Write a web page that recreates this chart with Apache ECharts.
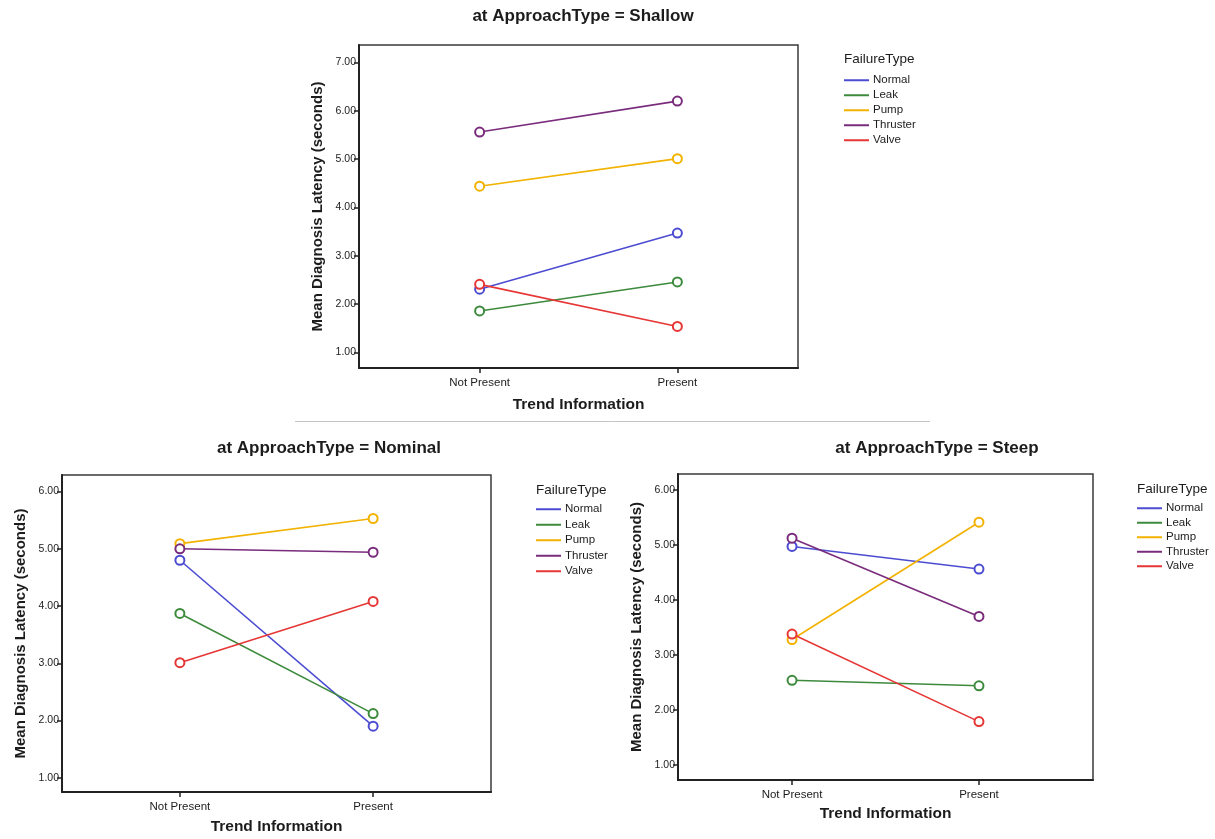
<!DOCTYPE html>
<html>
<head>
<meta charset="utf-8">
<script src="https://cdn.jsdelivr.net/npm/echarts@6/dist/echarts.min.js"></script>
<style>
  html, body { margin: 0; padding: 0; background: #fff; }
  #chart { width: 1215px; height: 839px; }
</style>
</head>
<body>
<div id="chart"></div>
<script>
// Categories on the x axis (trend information) and the failure types
const categories = ['Not Present', 'Present'];
const failureTypes = ['Normal', 'Leak', 'Pump', 'Thruster', 'Valve'];
const yTicks = [1, 2, 3, 4, 5, 6, 7];

// Mean diagnosis latency (seconds) per failure type: [Not Present, Present]
const shallowValues = [
  [2.31, 3.47],  // Normal
  [1.86, 2.46],  // Leak
  [4.44, 5.01],  // Pump
  [5.56, 6.20],  // Thruster
  [2.41, 1.54]   // Valve
];
const nominalValues = [
  [4.80, 1.90],
  [3.87, 2.12],
  [5.09, 5.53],
  [5.00, 4.94],
  [3.01, 4.08]
];
const steepValues = [
  [4.97, 4.56],
  [2.54, 2.44],
  [3.28, 5.41],
  [5.12, 3.70],
  [3.38, 1.79]
];

const panelTitles = ['at ApproachType = Shallow', 'at ApproachType = Nominal', 'at ApproachType = Steep'];
const panelValues = [shallowValues, nominalValues, steepValues];

const colors = ['#4c4cd2', '#3d8a3d', '#f2b200', '#7a2c7c', '#e63636'];
const FONT = '"Liberation Sans", Arial, sans-serif';
const TEXT = '#1c1c1c';

// Layout of the three panels
const panels = [
  { grid: { left: 359, top: 45, width: 439, height: 323 }, yMin: 0.68, yMax: 7.36, yTickMax: 7,
    title: { left: 578, top: 3 }, legend: { left: 839, top: 47, items: 69, gap: 2.5 }, nameGapX: 29 },
  { grid: { left: 62, top: 475, width: 429, height: 317 }, yMin: 0.75, yMax: 6.29, yTickMax: 6,
    title: { left: 324, top: 435 }, legend: { left: 531, top: 478, items: 498, gap: 3 }, nameGapX: 27 },
  { grid: { left: 678, top: 474, width: 415, height: 306 }, yMin: 0.73, yMax: 6.285, yTickMax: 6,
    title: { left: 932, top: 435 }, legend: { left: 1132, top: 477, items: 497, gap: 2 }, nameGapX: 26 }
];

const grids = [], xAxes = [], yAxes = [], titles = [], legends = [], series = [];

panels.forEach((p, i) => {
  grids.push(Object.assign({ show: true, borderColor: '#3a3a3a', borderWidth: 1.5, backgroundColor: '#fff' }, p.grid));

  titles.push({
    text: panelTitles[i], left: p.title.left, top: p.title.top, textAlign: 'center',
    textStyle: { fontFamily: FONT, fontSize: 17, fontWeight: 'bold', color: TEXT }
  });
  titles.push({
    text: 'FailureType', left: p.legend.left, top: p.legend.top,
    textStyle: { fontFamily: FONT, fontSize: 13.5, fontWeight: 'normal', color: TEXT }
  });

  const ticks = yTicks.filter(v => v <= p.yTickMax);
  xAxes.push({
    gridIndex: i, type: 'value', min: -0.61, max: 1.61,
    name: 'Trend Information', nameLocation: 'middle', nameGap: p.nameGapX,
    nameTextStyle: { fontFamily: FONT, fontSize: 15.5, fontWeight: 'bold', color: TEXT },
    axisLine: { show: true, onZero: false, lineStyle: { color: '#222', width: 2 } },
    axisTick: { show: true, length: 5, customValues: [0, 1], lineStyle: { color: '#222', width: 1.5 } },
    axisLabel: { customValues: [0, 1], formatter: v => categories[Math.round(v)], margin: 9,
                 fontFamily: FONT, fontSize: 11.5, color: TEXT },
    splitLine: { show: false }
  });
  yAxes.push({
    gridIndex: i, type: 'value', min: p.yMin, max: p.yMax,
    name: 'Mean Diagnosis Latency (seconds)', nameLocation: 'middle', nameGap: 34,
    nameTextStyle: { fontFamily: FONT, fontSize: 15, fontWeight: 'bold', color: TEXT },
    axisLine: { show: true, onZero: false, lineStyle: { color: '#222', width: 2 } },
    axisTick: { show: true, length: 5, customValues: ticks, lineStyle: { color: '#222', width: 1.5 } },
    axisLabel: { customValues: ticks, formatter: v => v.toFixed(2), margin: 3,
                 fontFamily: FONT, fontSize: 10.5, color: TEXT },
    splitLine: { show: false }
  });

  legends.push({
    orient: 'vertical', left: p.legend.left, top: p.legend.items, padding: [5, 5, 5, 5],
    data: failureTypes, icon: 'rect', itemWidth: 25, itemHeight: 2, itemGap: p.legend.gap,
    textStyle: { fontFamily: FONT, fontSize: 11.5, color: TEXT, lineHeight: 12.5, padding: [0, 0, 0, -1] },
    selectedMode: false
  });

  panelValues[i].forEach((vals, k) => {
    series.push({
      type: 'line', name: failureTypes[k], xAxisIndex: i, yAxisIndex: i,
      data: vals.map((v, c) => [c, v]),
      symbol: 'emptyCircle', symbolSize: 9,
      color: colors[k],
      lineStyle: { width: 1.6, color: colors[k] },
      itemStyle: { color: colors[k], borderWidth: 1.4 },
      emphasis: { disabled: true }, animation: false
    });
  });
});

const chart = echarts.init(document.getElementById('chart'), null, { renderer: 'canvas' });
chart.setOption({
  backgroundColor: '#fff',
  animation: false,
  title: titles,
  grid: grids,
  xAxis: xAxes,
  yAxis: yAxes,
  legend: legends,
  series: series,
  graphic: [{
    type: 'line', shape: { x1: 295, y1: 421.5, x2: 930, y2: 421.5 },
    style: { stroke: '#c4c4c4', lineWidth: 1 }
  }]
});
</script>
</body>
</html>
